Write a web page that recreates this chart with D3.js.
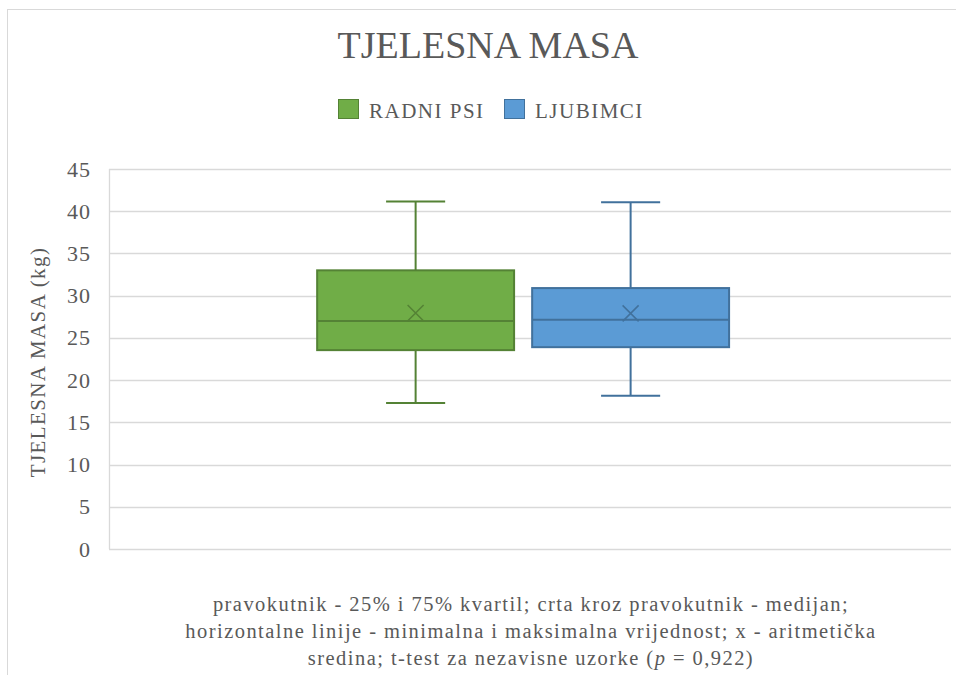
<!DOCTYPE html>
<html>
<head>
<meta charset="utf-8">
<script src="https://cdn.jsdelivr.net/npm/d3@7"></script>
<style>
  body { margin: 0; background: #fff; }
</style>
</head>
<body>
<div id="chart"></div>
<script>
// series and box statistics (kg)
var seriesNames = ["RADNI PSI", "LJUBIMCI"];
var seriesFill = ["#70ad47", "#5b9bd5"];
var seriesStroke = ["#548235", "#41719c"];
var minVals = [17.3, 18.15];
var q1Vals = [23.55, 23.9];
var medianVals = [27.0, 27.15];
var meanVals = [27.95, 27.9];
var q3Vals = [33.0, 30.9];
var maxVals = [41.15, 41.05];
var yTicks = [0, 5, 10, 15, 20, 25, 30, 35, 40, 45];

var W = 956, H = 675;
var margin = {left: 109, right: 5, top: 169, bottom: 126};
var plotW = W - margin.left - margin.right;
var plotH = H - margin.top - margin.bottom;
var FONT = "'Liberation Serif'";
var textColor = "#595959";

var svg = d3.select("#chart").append("svg")
    .attr("width", W)
    .attr("height", H);

// chart frame (only top and left edges are visible in the picture)
svg.append("rect")
    .attr("x", 7.5).attr("y", 9.5)
    .attr("width", 1000).attr("height", 800)
    .attr("fill", "none")
    .attr("stroke", "#d9d9d9");

svg.append("text")
    .attr("x", 488).attr("y", 58)
    .attr("text-anchor", "middle")
    .attr("fill", textColor)
    .style("font-family", FONT)
    .style("font-size", "38px")
    .text("TJELESNA MASA");

var g = svg.append("g")
    .attr("transform", "translate(" + margin.left + "," + margin.top + ")");

var y = d3.scaleLinear().domain([0, 45]).range([plotH, 0]);

var x0 = d3.scaleBand().domain(["kat"]).range([0, plotW]).paddingOuter(0.522).align(0.484);
var x1 = d3.scaleBand().domain(seriesNames)
    .range([x0("kat"), x0("kat") + x0.bandwidth()])
    .paddingInner(0.084);

// gridlines
g.append("g")
    .selectAll("line")
    .data(yTicks)
    .enter().append("line")
    .attr("x1", 0).attr("x2", plotW)
    .attr("y1", function(d) { return Math.round(y(d)) + 0.5; })
    .attr("y2", function(d) { return Math.round(y(d)) + 0.5; })
    .attr("stroke", "#d9d9d9")
    .attr("stroke-width", 1.3);

g.append("line")
    .attr("x1", 0.5).attr("x2", 0.5)
    .attr("y1", y(45)).attr("y2", y(0))
    .attr("stroke", "#d9d9d9")
    .attr("stroke-width", 1.3);

var yAxis = g.append("g")
    .call(d3.axisLeft(y).tickValues(yTicks).tickSize(0).tickPadding(18));
yAxis.select(".domain").remove();
yAxis.selectAll("text")
    .style("font-size", "22px")
    .style("font-family", FONT)
    .style("letter-spacing", "1px")
    .attr("fill", textColor);

svg.append("text")
    .attr("transform", "translate(45,362) rotate(-90)")
    .attr("text-anchor", "middle")
    .attr("fill", textColor)
    .style("font-family", FONT)
    .style("font-size", "21px")
    .style("letter-spacing", "1.4px")
    .text("TJELESNA MASA (kg)");

// boxes
var boxes = seriesNames.map(function(name, i) {
    return {name: name, i: i, min: minVals[i], q1: q1Vals[i], med: medianVals[i],
            mean: meanVals[i], q3: q3Vals[i], max: maxVals[i]};
});

var bw = x1.bandwidth();
var capW = bw * 0.3;

var box = g.selectAll(".box")
    .data(boxes)
    .enter().append("g")
    .attr("class", "box")
    .attr("transform", function(d) { return "translate(" + x1(d.name) + ",0)"; });

// whiskers
box.append("line")
    .attr("x1", bw / 2).attr("x2", bw / 2)
    .attr("y1", function(d) { return y(d.max); })
    .attr("y2", function(d) { return y(d.q3); })
    .attr("stroke", function(d) { return seriesStroke[d.i]; })
    .attr("stroke-width", 2);
box.append("line")
    .attr("x1", bw / 2).attr("x2", bw / 2)
    .attr("y1", function(d) { return y(d.q1); })
    .attr("y2", function(d) { return y(d.min); })
    .attr("stroke", function(d) { return seriesStroke[d.i]; })
    .attr("stroke-width", 2);
["max", "min"].forEach(function(k) {
    box.append("line")
        .attr("x1", bw / 2 - capW / 2).attr("x2", bw / 2 + capW / 2)
        .attr("y1", function(d) { return y(d[k]); })
        .attr("y2", function(d) { return y(d[k]); })
        .attr("stroke", function(d) { return seriesStroke[d.i]; })
        .attr("stroke-width", 2);
});

box.append("rect")
    .attr("x", 0)
    .attr("y", function(d) { return y(d.q3); })
    .attr("width", bw)
    .attr("height", function(d) { return y(d.q1) - y(d.q3); })
    .attr("fill", function(d) { return seriesFill[d.i]; })
    .attr("stroke", function(d) { return seriesStroke[d.i]; })
    .attr("stroke-width", 2);

box.append("line")
    .attr("x1", 0).attr("x2", bw)
    .attr("y1", function(d) { return y(d.med); })
    .attr("y2", function(d) { return y(d.med); })
    .attr("stroke", function(d) { return seriesStroke[d.i]; })
    .attr("stroke-width", 2);

// mean marker
var mk = 8;
box.append("path")
    .attr("d", function(d) {
        var cx = bw / 2, cy = y(d.mean);
        return "M" + (cx - mk) + "," + (cy - mk) + "L" + (cx + mk) + "," + (cy + mk) +
               "M" + (cx - mk) + "," + (cy + mk) + "L" + (cx + mk) + "," + (cy - mk);
    })
    .attr("stroke", function(d) { return seriesStroke[d.i]; })
    .attr("stroke-width", 1.5)
    .attr("fill", "none");

// legend
var legendX = [338, 504];
var legend = svg.selectAll(".legend")
    .data(seriesNames)
    .enter().append("g")
    .attr("class", "legend")
    .attr("transform", function(d, i) { return "translate(" + legendX[i] + ",99)"; });
legend.append("rect")
    .attr("x", 0.5).attr("y", 0.5)
    .attr("width", 20).attr("height", 19)
    .attr("fill", function(d, i) { return seriesFill[i]; })
    .attr("stroke", function(d, i) { return seriesStroke[i]; });
legend.append("text")
    .attr("x", 31).attr("y", 18.5)
    .attr("fill", textColor)
    .style("font-family", FONT)
    .style("font-size", "21px")
    .style("letter-spacing", "1.5px")
    .text(function(d) { return d; });

// note under the chart
var note = svg.append("text")
    .attr("text-anchor", "middle")
    .attr("fill", textColor)
    .style("font-family", FONT)
    .style("font-size", "20.5px")
    .style("letter-spacing", "1.45px");
note.append("tspan").attr("x", 531).attr("y", 611)
    .text("pravokutnik - 25% i 75% kvartil; crta kroz pravokutnik - medijan;");
note.append("tspan").attr("x", 531).attr("y", 638)
    .text("horizontalne linije - minimalna i maksimalna vrijednost; x - aritmetička");
var line3 = note.append("tspan").attr("x", 531).attr("y", 665);
line3.append("tspan").text("sredina; t-test za nezavisne uzorke (");
line3.append("tspan").style("font-style", "italic").text("p");
line3.append("tspan").text(" = 0,922)");
</script>
</body>
</html>
